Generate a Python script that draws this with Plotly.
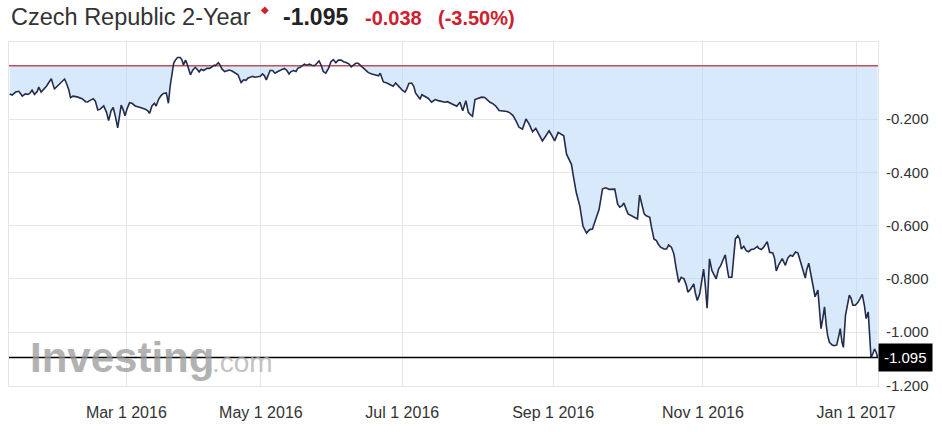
import plotly.graph_objects as go

# ---- data (trading-session index, yield %) ----
session = [
    0.2, 0.9, 1.9, 2.8, 3.8, 4.7, 5.4, 5.9, 6.6, 7.3, 8.1, 8.5, 9.2, 9.9, 10.7, 11.4, 12.1, 12.6, 13.0, 13.8,
    14.5, 15.2, 15.9, 16.4, 17.1, 17.6, 18.3, 19.5, 20.9, 21.9, 22.5, 23.3, 24.1, 24.7, 25.4, 26.1, 27.1, 27.9,
    28.5, 29.2, 29.8, 30.4, 31.1, 31.7, 32.1, 32.6, 33.2, 33.8, 34.5, 35.2, 36.1, 37.6, 39.0, 39.7, 40.2, 40.9,
    41.6, 42.1, 42.8, 43.5, 44.2, 45.0, 45.6, 46.1, 46.6, 47.1, 47.6, 48.2, 49.0, 49.5, 49.9, 50.5, 50.9, 51.4,
    51.9, 52.6, 53.3, 53.8, 54.4, 55.0, 55.7, 56.6, 57.4, 58.1, 58.7,
    59.0, 59.5, 59.9, 60.4, 60.9, 61.7, 62.3, 63.0, 63.8, 64.7, 65.5, 65.9, 66.4, 67.1, 67.8, 68.3, 69.0, 69.7,
    70.4, 71.2, 71.9, 72.5, 73.1, 73.6, 74.1, 74.7, 75.4, 76.1, 76.9, 77.6, 78.2, 78.8, 79.5, 80.1, 80.7, 81.4,
    82.1, 82.6, 83.3, 83.9, 84.5, 85.2, 85.9, 86.6, 87.4, 88.1, 88.7, 89.3, 89.9, 90.6, 91.4, 92.1, 92.8, 93.5,
    94.2, 95.0, 95.7, 96.6, 97.3, 97.9, 98.5, 99.2, 99.9, 100.6, 101.4, 102.1, 102.8, 103.8, 104.9, 105.7, 106.2,
    106.6, 107.1, 108.1, 109.0, 109.9, 110.6, 111.2, 111.9, 112.5, 113.3, 113.8, 114.4, 115.2, 115.8, 116.3,
    117.1, 117.6,
    118.1, 119.0, 119.9, 120.9, 121.9, 122.8, 123.8, 124.7, 125.4, 126.3, 127.3, 128.1, 129.0, 129.8, 130.7,
    131.4, 132.1, 132.6, 133.3, 134.2, 135.2, 136.1, 136.8, 137.6, 138.5, 139.3, 140.2, 141.4, 142.5, 143.3,
    144.2, 145.0, 145.9, 146.9, 147.9, 148.8, 149.8, 150.7, 151.7, 152.6, 153.6, 154.5, 155.2, 156.1, 157.1,
    158.1, 158.7, 159.5, 160.2, 160.9, 161.6, 162.3, 163.3, 164.2, 165.2, 166.1, 166.9, 167.9, 168.8, 169.8,
    170.7, 171.7,
    173.3, 174.1, 174.7, 175.4, 175.9, 176.6, 177.1, 178.1, 179.0, 179.8, 180.4, 180.9, 181.7, 182.3, 183.3,
    183.8, 184.5, 185.2, 185.7, 186.4, 187.4, 188.1, 188.7, 189.5, 190.2, 190.9, 191.6, 192.3, 193.1, 193.8,
    194.2, 195.0, 195.9, 196.3, 196.9, 197.6, 198.2, 198.7, 199.2, 199.7, 199.9, 200.4, 201.1, 201.9, 202.3,
    203.0, 203.6, 204.2, 204.9, 205.5, 205.9, 206.8, 207.4, 207.8, 208.5, 209.0, 209.5, 210.2, 210.9, 211.6,
    212.3, 213.1, 214.1, 214.4, 215.2, 215.9, 216.9, 217.6,
    218.5, 219.0, 219.5, 220.2, 221.2, 222.1, 222.8, 223.5, 224.2, 225.0, 225.7, 226.3, 227.1, 227.8, 228.2,
    228.8, 229.5, 229.9, 230.6, 231.4, 231.9, 232.3, 232.8, 233.3, 233.8, 234.2, 234.7, 235.5, 236.1, 236.8,
    237.4, 237.8, 238.3, 238.7, 239.3, 239.9, 240.4, 240.9, 241.4, 242.1, 242.8, 243.5, 244.1, 244.7, 245.2,
    245.8, 246.1, 246.6, 247.1, 247.6, 248.1, 248.5,
]
yield_pct = [
    -0.106, -0.110, -0.099, -0.096, -0.114, -0.106, -0.108, -0.104, -0.092, -0.108, -0.096, -0.080, -0.099,
    -0.090, -0.077, -0.063, -0.049, -0.071, -0.087, -0.077, -0.067, -0.059, -0.050, -0.065, -0.090, -0.120,
    -0.114, -0.117, -0.124, -0.135, -0.136, -0.129, -0.124, -0.133, -0.166, -0.163, -0.151, -0.175, -0.206,
    -0.169, -0.157, -0.188, -0.233, -0.182, -0.148, -0.163, -0.188, -0.161, -0.139, -0.141, -0.151, -0.157,
    -0.163, -0.169, -0.179, -0.151, -0.141, -0.151, -0.126, -0.112, -0.104, -0.102, -0.141, -0.077, -0.026,
    0.009, 0.021, 0.031, 0.031, 0.021, 0.002, 0.021, 0.009, -0.010, -0.034, -0.016, -0.006, -0.013, -0.023,
    -0.013, -0.018, -0.010, -0.010, -0.004, 0.002,
    0.000, 0.006, 0.011, 0.002, -0.012, -0.022, -0.018, -0.016, -0.020, -0.026, -0.034, -0.047, -0.063,
    -0.053, -0.055, -0.047, -0.043, -0.040, -0.043, -0.040, -0.040, -0.031, -0.038, -0.053, -0.034, -0.018,
    -0.018, -0.028, -0.022, -0.018, -0.013, -0.010, -0.018, -0.031, -0.022, -0.018, -0.022, -0.010, -0.006,
    -0.001, 0.006, 0.002, 0.006, 0.002, 0.000, 0.009, 0.018, 0.002, -0.022, -0.028, -0.010, 0.015, 0.023,
    0.011, 0.021, 0.021, 0.015, 0.011, 0.006, -0.004, 0.002, 0.009, 0.009, 0.000, -0.010, -0.018, -0.026,
    -0.031, -0.034, -0.038, -0.028, -0.047, -0.061, -0.065, -0.071, -0.077, -0.065, -0.075, -0.083, -0.092,
    -0.099, -0.087, -0.067, -0.065, -0.077, -0.102, -0.120, -0.126,
    -0.109, -0.114, -0.122, -0.137, -0.127, -0.131, -0.133, -0.137, -0.135, -0.141, -0.147, -0.152, -0.137,
    -0.169, -0.131, -0.175, -0.185, -0.190, -0.127, -0.122, -0.118, -0.119, -0.127, -0.137, -0.143, -0.152,
    -0.168, -0.171, -0.172, -0.177, -0.187, -0.206, -0.231, -0.238, -0.200, -0.219, -0.248, -0.235, -0.260,
    -0.282, -0.263, -0.244, -0.260, -0.282, -0.250, -0.257, -0.263, -0.332, -0.351, -0.370, -0.426, -0.477,
    -0.527, -0.602, -0.628, -0.615, -0.613, -0.571, -0.540, -0.462, -0.458, -0.464,
    -0.463, -0.519, -0.531, -0.525, -0.515, -0.540, -0.556, -0.563, -0.569, -0.575, -0.485, -0.513, -0.556,
    -0.563, -0.569, -0.606, -0.650, -0.656, -0.669, -0.681, -0.688, -0.688, -0.673, -0.681, -0.706, -0.763,
    -0.813, -0.794, -0.800, -0.825, -0.850, -0.838, -0.819, -0.850, -0.881, -0.856, -0.800, -0.763, -0.825,
    -0.910, -0.863, -0.725, -0.769, -0.794, -0.800, -0.763, -0.750, -0.731, -0.710, -0.763, -0.794, -0.794,
    -0.700, -0.650, -0.638, -0.650, -0.688, -0.678, -0.694, -0.698, -0.690, -0.688, -0.678, -0.685, -0.690,
    -0.681, -0.660, -0.700,
    -0.703, -0.722, -0.770, -0.747, -0.724, -0.749, -0.722, -0.711, -0.715, -0.699, -0.703, -0.734, -0.766,
    -0.797, -0.766, -0.741, -0.791, -0.829, -0.867, -0.842, -0.924, -0.987, -0.949, -0.905, -0.975, -1.013,
    -1.038, -1.048, -1.051, -1.048, -1.013, -0.987, -1.038, -1.057, -0.937, -0.899, -0.861, -0.873, -0.899,
    -0.899, -0.889, -0.873, -0.858, -0.899, -0.949, -0.924, -0.987, -1.095, -1.082, -1.063, -1.076, -1.095,
]

x_tick_sessions = [33.57, 72.06, 112.51, 155.66, 198.51, 242.34]
x_tick_labels = ["Mar 1 2016", "May 1 2016", "Jul 1 2016", "Sep 1 2016", "Nov 1 2016", "Jan 1 2017"]
y_tick_values = [-0.2, -0.4, -0.6, -0.8, -1.0, -1.2]
y_tick_labels = ["-0.200", "-0.400", "-0.600", "-0.800", "-1.000", "-1.200"]

title_name = "Czech Republic 2-Year"
last_price = -1.095
last_price_text = "-1.095"
change_text = "-0.038"
change_pct_text = "(-3.50%)"
baseline_value = 0.0
x_range = [0, 248.6]

FONT = "Liberation Sans, Arial, sans-serif"
RED = "#d0202e"
GRID = "#e6e6e6"

fig = go.Figure()
# light-blue area between the curve and the baseline (only where the curve is below it)
fig.add_trace(go.Scatter(
    x=session, y=[min(v, baseline_value) for v in yield_pct], mode="lines",
    line=dict(width=0, color="rgba(0,0,0,0)"),
    fill="tozeroy", fillcolor="rgba(185,215,250,0.55)",
    hoverinfo="skip", showlegend=False,
))
# baseline (red)
fig.add_trace(go.Scatter(
    x=x_range, y=[baseline_value, baseline_value], mode="lines",
    line=dict(color="rgb(188,82,92)", width=1.5),
    hoverinfo="skip", showlegend=False,
))
# price line
fig.add_trace(go.Scatter(
    x=session, y=yield_pct, mode="lines",
    line=dict(color="#232d4b", width=1.6),
    hoverinfo="skip", showlegend=False,
))

L, R, T, B = 8.5, 63.5, 42, 46
W, H = 942, 432
PW, PH = W - L - R, H - T - B


def px(xp):
    return (xp - L) / PW


def py(yp):
    return (H - B - yp) / PH


fig.update_layout(
    width=W, height=H,
    margin=dict(l=L, r=R, t=T, b=B, pad=0),
    paper_bgcolor="white", plot_bgcolor="white",
    font=dict(family=FONT, color="#333333"),
    xaxis=dict(
        range=x_range, tickmode="array", tickvals=x_tick_sessions, ticktext=x_tick_labels,
        showgrid=True, gridcolor=GRID, gridwidth=1, zeroline=False,
        showline=True, linecolor=GRID, linewidth=1, mirror=True,
        ticks="", tickfont=dict(size=16, color="#333333"), ticklabelstandoff=12,
    ),
    yaxis=dict(
        range=[-1.202, 0.089], side="right", tickmode="array", tickvals=y_tick_values,
        ticktext=y_tick_labels, showgrid=True, gridcolor=GRID, gridwidth=1, zeroline=False,
        showline=True, linecolor=GRID, linewidth=1, mirror=True,
        ticks="", tickfont=dict(size=15, color="#333333"), ticklabelstandoff=4,
    ),
    shapes=[
        dict(type="line", xref="paper", x0=0, x1=1, yref="y", y0=last_price, y1=last_price,
             line=dict(color="black", width=1.5), layer="above"),
    ],
)

ann = [
    dict(text=title_name, x=px(9), y=py(17), font=dict(size=23.5, color="#333333")),
    dict(text="\u25C6", x=px(259), y=py(9), font=dict(size=10, color=RED)),
    dict(text="<b>%s</b>" % last_price_text, x=px(281), y=py(17), font=dict(size=23, color="#222222")),
    dict(text="<b>%s</b>" % change_text, x=px(363), y=py(18), font=dict(size=20, color=RED)),
    dict(text="<b>%s</b>" % change_pct_text, x=px(436), y=py(18), font=dict(size=20, color=RED)),
    dict(text="<b>Investing</b>", x=px(28), y=py(357), font=dict(size=42, color="#999999"), opacity=0.75),
    dict(text=".com", x=px(210), y=py(362), font=dict(size=28, color="#b5b5b5"), opacity=0.8),
]
for a in ann:
    fig.add_annotation(xref="paper", yref="paper", xanchor="left", yanchor="middle",
                       showarrow=False, **a)

fig.add_annotation(
    xref="paper", yref="y", x=1, y=last_price, xanchor="left", yanchor="middle",
    text=last_price_text, showarrow=False, bgcolor="black", borderpad=5,
    font=dict(size=15, color="white"),
)

fig.write_html("out.html", config={"displayModeBar": False},
               post_script="document.body.style.margin='0';")
